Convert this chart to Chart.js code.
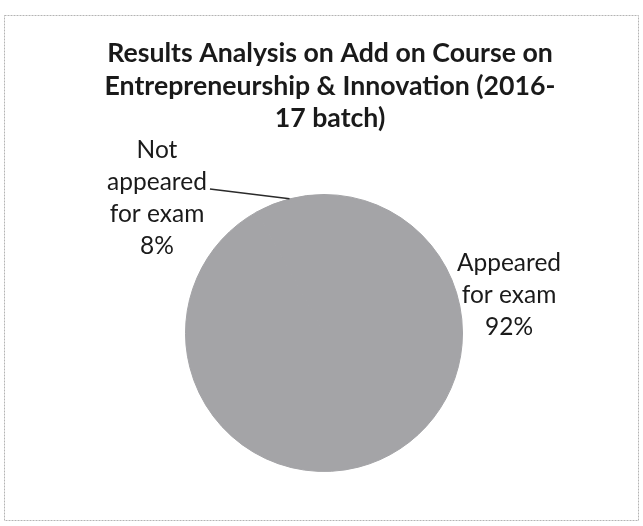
<!DOCTYPE html>
<html lang="en">
<head>
    <meta charset="UTF-8">
    <title>Results Analysis - Add on Course</title>
    <script src="https://cdn.jsdelivr.net/npm/chart.js"></script>
    <style>
        html, body { margin: 0; padding: 0; background: #fff; }
        canvas { display: block; }
    </style>
</head>
<body>
    <canvas id="resultChart" width="643" height="526"></canvas>

    <script>
        // data
        const categories = ['Appeared for exam', 'Not appeared for exam'];
        const values = [92, 8];
        const labelLines = [['Appeared', 'for exam'], ['Not', 'appeared', 'for exam']];
        const titleLines = [
            'Results Analysis on Add on Course on',
            'Entrepreneurship & Innovation (2016-',
            '17 batch)'
        ];

        const textColor = '#1a1a1a';
        const pieGray = '#a4a4a7';
        const fontFamily = 'Lato, "Open Sans", sans-serif';

        // pick a font size so that a text gets a given width
        function fitSize(ctx, text, weight, width) {
            ctx.font = weight + ' 100px ' + fontFamily;
            return 100 * width / ctx.measureText(text).width;
        }

        // where the outside labels sit (centre x, first baseline)
        const labelPos = [
            { x: 509, y: 271 },
            { x: 157, y: 158 }
        ];

        const decorPlugin = {
            id: 'decor',
            beforeDraw(chart) {
                const ctx = chart.ctx;
                ctx.save();
                ctx.fillStyle = '#fff';
                ctx.fillRect(0, 0, chart.width, chart.height);
                // faint frame of the scanned chart box
                ctx.strokeStyle = '#b4b4b4';
                ctx.lineWidth = 1;
                ctx.setLineDash([2, 1]);
                ctx.strokeRect(4.5, 15.5, 634, 505);
                ctx.setLineDash([]);

                // title
                const tSize = fitSize(ctx, titleLines[1], 'bold', 452);
                ctx.font = 'bold ' + tSize.toFixed(1) + 'px ' + fontFamily;
                ctx.fillStyle = textColor;
                ctx.textAlign = 'center';
                ctx.textBaseline = 'alphabetic';
                titleLines.forEach((line, i) => {
                    ctx.fillText(line, 330, 62 + i * 32.5);
                });
                ctx.restore();
            },
            afterDatasetsDraw(chart) {
                const ctx = chart.ctx;
                const meta = chart.getDatasetMeta(0);
                const data = chart.data.datasets[0].data;
                const total = data.reduce((a, b) => a + b, 0);
                const lSize = fitSize(ctx, 'appeared', 'normal', 100);

                ctx.save();
                ctx.font = lSize.toFixed(1) + 'px ' + fontFamily;
                ctx.fillStyle = textColor;
                ctx.textAlign = 'center';
                ctx.textBaseline = 'alphabetic';

                meta.data.forEach((arc, i) => {
                    const lines = labelLines[i].concat([Math.round(data[i] / total * 100) + '%']);
                    const pos = labelPos[i];
                    lines.forEach((line, j) => {
                        ctx.fillText(line, pos.x, pos.y + j * 32);
                    });

                    // leader line for the small slice
                    if (i === 1) {
                        const mid = (arc.startAngle + arc.endAngle) / 2;
                        const ex = arc.x + Math.cos(mid) * arc.outerRadius;
                        const ey = arc.y + Math.sin(mid) * arc.outerRadius;
                        const w = ctx.measureText(lines[1]).width;
                        ctx.beginPath();
                        ctx.strokeStyle = '#2a2a2a';
                        ctx.lineWidth = 1.5;
                        ctx.moveTo(pos.x + w / 2 + 3, pos.y + 32 - 1);
                        ctx.lineTo(ex, ey);
                        ctx.stroke();
                    }
                });
                ctx.restore();
            }
        };

        const ctx = document.getElementById('resultChart').getContext('2d');
        new Chart(ctx, {
            type: 'pie',
            data: {
                labels: categories,
                datasets: [{
                    data: values,
                    backgroundColor: [pieGray, pieGray],
                    // same colour as the fill so no seam shows between slices
                    borderColor: pieGray,
                    borderWidth: 1
                }]
            },
            options: {
                responsive: false,
                animation: false,
                layout: {
                    padding: { left: 185, right: 180, top: 193, bottom: 53 }
                },
                plugins: {
                    legend: { display: false },
                    title: { display: false },
                    tooltip: { enabled: false }
                }
            },
            plugins: [decorPlugin]
        });
    </script>
</body>
</html>
